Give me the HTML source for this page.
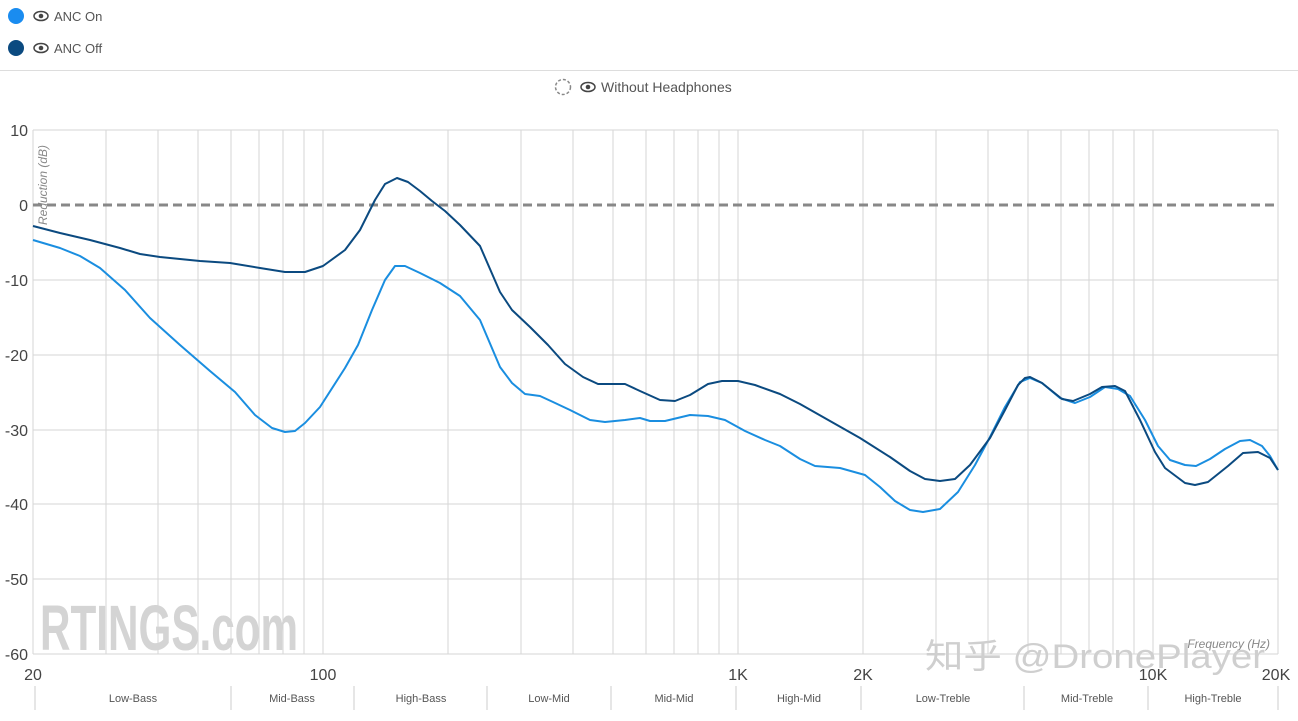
<!DOCTYPE html>
<html><head><meta charset="utf-8"><style>
body{margin:0;width:1298px;height:716px;background:#fff;font-family:"Liberation Sans",sans-serif;overflow:hidden}
</style></head><body>
<svg width="1298" height="716" xmlns="http://www.w3.org/2000/svg" font-family="Liberation Sans, sans-serif">
<circle cx="16" cy="16" r="8" fill="#1a8cf0"/>
<circle cx="16" cy="48" r="8" fill="#0b4a80"/>
<g fill="#444"><ellipse cx="41" cy="16" rx="7" ry="4.5" fill="none" stroke="#444" stroke-width="1.5"/><circle cx="41" cy="16" r="2.3"/>
<ellipse cx="41" cy="48" rx="7" ry="4.5" fill="none" stroke="#444" stroke-width="1.5"/><circle cx="41" cy="48" r="2.3"/></g>
<text x="54" y="21" font-size="13" fill="#555">ANC On</text>
<text x="54" y="53" font-size="13" fill="#555">ANC Off</text>
<line x1="0" y1="70.5" x2="1298" y2="70.5" stroke="#ddd"/>
<circle cx="563" cy="87" r="7.5" fill="none" stroke="#888" stroke-width="1.5" stroke-dasharray="3,2"/>
<g fill="#444"><ellipse cx="588" cy="87" rx="7" ry="4.5" fill="none" stroke="#444" stroke-width="1.5"/><circle cx="588" cy="87" r="2.3"/></g>
<text x="601" y="92" font-size="14" fill="#555">Without Headphones</text>
<g stroke="#d6d6d6" stroke-width="1">
<line x1="33" y1="130" x2="1278" y2="130"/><line x1="33" y1="280" x2="1278" y2="280"/><line x1="33" y1="355" x2="1278" y2="355"/><line x1="33" y1="430" x2="1278" y2="430"/><line x1="33" y1="504" x2="1278" y2="504"/><line x1="33" y1="579" x2="1278" y2="579"/><line x1="33" y1="654" x2="1278" y2="654"/>
<line x1="33" y1="130" x2="33" y2="654"/><line x1="106" y1="130" x2="106" y2="654"/><line x1="158" y1="130" x2="158" y2="654"/><line x1="198" y1="130" x2="198" y2="654"/><line x1="231" y1="130" x2="231" y2="654"/><line x1="259" y1="130" x2="259" y2="654"/><line x1="283" y1="130" x2="283" y2="654"/><line x1="304" y1="130" x2="304" y2="654"/><line x1="323" y1="130" x2="323" y2="654"/>
<line x1="448" y1="130" x2="448" y2="654"/><line x1="521" y1="130" x2="521" y2="654"/><line x1="573" y1="130" x2="573" y2="654"/><line x1="613" y1="130" x2="613" y2="654"/><line x1="646" y1="130" x2="646" y2="654"/><line x1="674" y1="130" x2="674" y2="654"/><line x1="698" y1="130" x2="698" y2="654"/><line x1="719" y1="130" x2="719" y2="654"/><line x1="738" y1="130" x2="738" y2="654"/>
<line x1="863" y1="130" x2="863" y2="654"/><line x1="936" y1="130" x2="936" y2="654"/><line x1="988" y1="130" x2="988" y2="654"/><line x1="1028" y1="130" x2="1028" y2="654"/><line x1="1061" y1="130" x2="1061" y2="654"/><line x1="1089" y1="130" x2="1089" y2="654"/><line x1="1113" y1="130" x2="1113" y2="654"/><line x1="1134" y1="130" x2="1134" y2="654"/><line x1="1153" y1="130" x2="1153" y2="654"/><line x1="1278" y1="130" x2="1278" y2="654"/>
</g>
<text x="40" y="650" font-size="64" font-weight="bold" fill="#d4d4d4" textLength="258" lengthAdjust="spacingAndGlyphs">RTINGS.com</text>
<g font-size="16" fill="#444" text-anchor="end">
<text x="28" y="136">10</text><text x="28" y="211">0</text><text x="28" y="286">-10</text><text x="28" y="361">-20</text><text x="28" y="436">-30</text><text x="28" y="510">-40</text><text x="28" y="585">-50</text><text x="28" y="660">-60</text>
</g>
<g font-size="16" fill="#444" text-anchor="middle">
<text x="33" y="680">20</text><text x="323" y="680">100</text><text x="738" y="680">1K</text><text x="863" y="680">2K</text><text x="1153" y="680">10K</text><text x="1276" y="680">20K</text>
</g>
<text transform="translate(47,225) rotate(-90)" font-size="12" font-style="italic" fill="#888">Reduction (dB)</text>
<text x="1270" y="648" font-size="12" font-style="italic" fill="#888" text-anchor="end">Frequency (Hz)</text>
<text x="925" y="668" font-size="34" fill="#cfcfcf" textLength="340" lengthAdjust="spacingAndGlyphs" font-family="Liberation Sans, Noto Sans CJK SC, sans-serif">知乎 @DronePlayer</text>
<line x1="33" y1="205" x2="1278" y2="205" stroke="#888" stroke-width="3" stroke-dasharray="9,5"/>
<polyline fill="none" stroke="#1a8ee0" stroke-width="2" stroke-linejoin="round" points="33,240 60,248 80,256 100,268 125,290 150,318 180,345 210,371 235,392 255,415 272,428 285,432 295,431 305,423 320,407 345,368 358,345 372,310 385,280 395,266 405,266 420,273 440,283 460,296 480,320 500,367 512,383 525,394 540,396 553,402 570,410 590,420 605,422 625,420 640,418 650,421 665,421 690,415 708,416 725,420 745,431 765,440 780,446 800,459 815,466 840,468 865,475 880,487 895,501 910,510 923,512 940,509 958,492 975,465 990,437 1005,407 1020,382 1030,378 1042,383 1060,398 1075,403 1090,397 1105,387 1118,389 1130,396 1145,420 1158,446 1170,460 1185,465 1196,466 1210,459 1225,449 1240,441 1250,440 1262,446 1270,456 1278,470"/>
<polyline fill="none" stroke="#0b4a80" stroke-width="2" stroke-linejoin="round" points="33,226 60,233 90,240 120,248 140,254 160,257 200,261 230,263 260,268 285,272 305,272 323,266 345,250 360,230 375,200 385,184 397,178 408,182 420,191 432,201 445,211 460,225 480,246 500,292 512,310 530,327 548,345 565,364 583,377 598,384 610,384 625,384 640,391 660,400 675,401 690,395 708,384 722,381 738,381 755,385 780,394 800,404 830,421 860,438 890,457 910,471 925,479 940,481 955,479 970,465 990,438 1005,410 1018,385 1025,378 1030,377 1042,383 1062,399 1073,401 1090,394 1102,387 1115,386 1125,391 1140,420 1155,452 1165,468 1185,483 1195,485 1208,482 1228,466 1243,453 1258,452 1270,458 1278,470"/>
<g stroke="#ccc"><line x1="35" y1="686" x2="35" y2="710"/><line x1="231" y1="686" x2="231" y2="710"/><line x1="354" y1="686" x2="354" y2="710"/><line x1="487" y1="686" x2="487" y2="710"/><line x1="611" y1="686" x2="611" y2="710"/><line x1="736" y1="686" x2="736" y2="710"/><line x1="861" y1="686" x2="861" y2="710"/><line x1="1024" y1="686" x2="1024" y2="710"/><line x1="1148" y1="686" x2="1148" y2="710"/><line x1="1278" y1="686" x2="1278" y2="710"/></g>
<g font-size="11" fill="#555" text-anchor="middle">
<text x="133" y="702">Low-Bass</text><text x="292" y="702">Mid-Bass</text><text x="421" y="702">High-Bass</text><text x="549" y="702">Low-Mid</text><text x="674" y="702">Mid-Mid</text><text x="799" y="702">High-Mid</text><text x="943" y="702">Low-Treble</text><text x="1087" y="702">Mid-Treble</text><text x="1213" y="702">High-Treble</text>
</g>
</svg>
</body></html>
